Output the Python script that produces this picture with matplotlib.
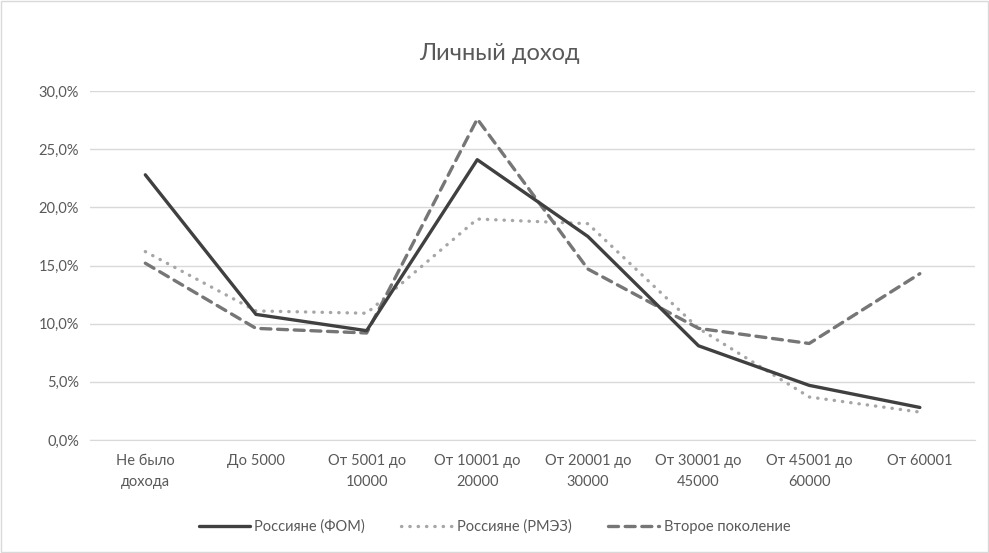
import matplotlib
matplotlib.use("Agg")
import matplotlib.pyplot as plt
from matplotlib.ticker import FuncFormatter
from matplotlib.patches import Rectangle

categories = ["Не было\nдохода", "До 5000", "От 5001 до\n10000", "От 10001 до\n20000",
              "От 20001 до\n30000", "От 30001 до\n45000", "От 45001 до\n60000", "От 60001"]
fom = [22.8, 10.8, 9.4, 24.1, 17.5, 8.1, 4.7, 2.8]
rmez = [16.2, 11.1, 10.9, 19.0, 18.6, 9.6, 3.7, 2.4]
second_gen = [15.2, 9.6, 9.2, 27.6, 14.7, 9.6, 8.3, 14.3]
series_names = ["Россияне (ФОМ)", "Россияне (РМЭЗ)", "Второе поколение"]

plt.rcParams['font.family'] = ['Lato', 'DejaVu Sans']

fig = plt.figure(figsize=(9.89, 5.53), dpi=100)
fig.patches.append(Rectangle((0.001, 0.001), 0.998, 0.998, transform=fig.transFigure,
                             fill=False, edgecolor='#d9d9d9', linewidth=1))
ax = fig.add_axes([0.091, 0.2043, 0.895, 0.631])
x = list(range(len(categories)))
ax.plot(x, fom, color='#404040', lw=2.4, solid_capstyle='round', solid_joinstyle='round',
        label=series_names[0], zorder=3)
ax.plot(x, rmez, color='#a6a6a6', lw=2.4, linestyle=(0, (0.1, 2.4)), dash_capstyle='round',
        label=series_names[1], zorder=2)
ax.plot(x, second_gen, color='#767676', lw=2.4, linestyle=(0, (3, 2)), dash_capstyle='round',
        label=series_names[2], zorder=2)

ax.set_xlim(-0.5, len(categories) - 0.5)
ax.set_ylim(0, 30)
ax.set_yticks([0, 5, 10, 15, 20, 25, 30])
ax.yaxis.set_major_formatter(FuncFormatter(lambda v, p: f"{v:.1f}%".replace('.', ',')))
ax.set_xticks(x)
ax.set_xticklabels(categories, linespacing=1.6)
ax.tick_params(length=0, labelsize=10.5, colors='#595959', pad=10)
ax.tick_params(axis='y', pad=8)
ax.grid(axis='y', color='#d9d9d9', lw=1)
ax.set_axisbelow(True)
for s in ['top', 'right', 'left']:
    ax.spines[s].set_visible(False)
ax.spines['bottom'].set_color('#d9d9d9')

fig.text(0.505, 0.903, "Личный доход", ha='center', va='center', fontsize=17, color='#595959')
fig.legend(loc='center', bbox_to_anchor=(0.5, 0.047), ncol=3, frameon=False, fontsize=10.5,
           labelcolor='#595959', handlelength=3.5, columnspacing=2.5, handletextpad=0.3)

fig.savefig("out.png", dpi=100)
